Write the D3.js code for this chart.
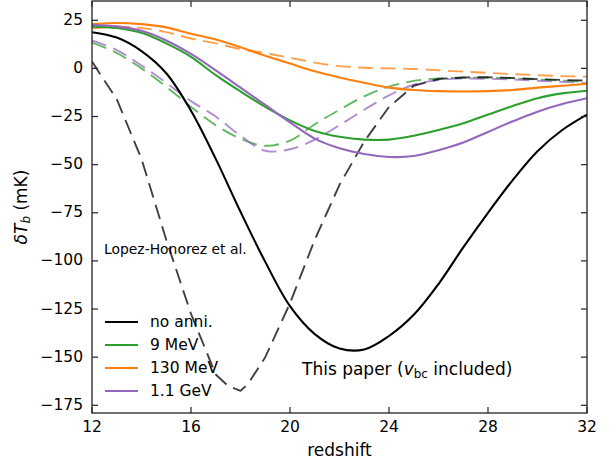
<!DOCTYPE html>
<html><head><meta charset="utf-8">
<script src="https://cdn.jsdelivr.net/npm/d3@7"></script>
<style>body{margin:0;background:#fff}svg{display:block}text{font-family:"DejaVu Sans",sans-serif;fill:#000}</style>
</head><body><svg id="c" width="615" height="466"></svg>
<script>
// redshift grid
const zGrid = [12,13,14,15,16,17,18,19,20,21,22,23,24,25,26,27,28,29,30,31,32];
// This paper (solid)
const noAnniSolid = [18.8,16,9,-2.5,-22,-47,-74.5,-100.5,-123.5,-138,-145.5,-146,-139,-128,-112,-93,-75,-58,-43,-32,-24];
const mev9Solid   = [21.7,21,18.5,13,6,-3.5,-12,-20,-27,-32.5,-35.5,-37,-37,-35,-32,-28.5,-24,-19.5,-15.5,-13,-11.6];
const mev130Solid = [23,23.6,23,21.3,18,15,11,6.5,2.5,-1.5,-4.7,-7.5,-10,-11.2,-11.8,-12,-11.8,-11.2,-10,-9,-8];
const gev11Solid  = [22.5,21.8,19.5,14.5,7.5,-1,-10,-19,-28,-36.5,-41.5,-44.5,-46,-45.5,-42.5,-38.5,-33,-27.5,-22.5,-18.5,-15.5];
// Lopez-Honorez et al. (dashed)
const zNoAnniDash = [12,13,14,15,16,17,17.5,18,18.3,19,20,21,22,23,24,25,26,27,28,29,30,31,32];
const noAnniDash  = [3.5,-16,-47,-89,-127.5,-159,-165,-167.5,-164,-150,-122,-89,-60.5,-38,-20,-9,-5.5,-4.7,-4.6,-5,-5.6,-6,-6.4];
const mev9Dash    = [13.4,8,0,-9.5,-20,-29.5,-36.5,-40.2,-37.5,-29,-21.5,-14.5,-9.5,-6.5,-5.2,-4.8,-4.9,-5.2,-5.8,-6.4,-6.9];
const mev130Dash  = [20.8,21.6,21,18.8,15.5,13,10,8,5.5,3,1.2,0.3,0,-0.3,-1,-1.7,-2.3,-3,-3.5,-4,-4.3];
const gev11Dash   = [14.5,9.5,1.5,-7.5,-17,-25,-35,-42.8,-42,-37,-29.5,-21.5,-14,-8.5,-6,-5.3,-5.4,-5.8,-6.4,-7,-7.7];

const xTicks = [12,16,20,24,28,32];
const yTicks = [25,0,-25,-50,-75,-100,-125,-150,-175];
const legendLabels = ["no anni.","9 MeV","130 MeV","1.1 GeV"];
const colors = ["#000000","#2ca02c","#ff7f0e","#9467bd"];

const L=92,R=587,T=1,B=413;
const x = d3.scaleLinear().domain([12,32]).range([L,R]);
const y = d3.scaleLinear().domain([-179,35]).range([B,T]);
const svg = d3.select("#c");

svg.append("clipPath").attr("id","clip").append("rect").attr("x",L).attr("y",T).attr("width",R-L).attr("height",B-T);
const g = svg.append("g").attr("clip-path","url(#clip)");

function draw(zs, vals, color, dashed, curve){
  const line = d3.line().x((d,i)=>x(zs[i])).y(d=>y(d)).curve(curve||d3.curveCatmullRom.alpha(0.5));
  const p = g.append("path").datum(vals).attr("d",line).attr("fill","none")
    .attr("stroke",color).attr("stroke-width",dashed?1.9:2.1).attr("stroke-linejoin","round");
  if(dashed){ p.attr("stroke-dasharray","15,7.5").attr("stroke-opacity",0.75); }
}
draw(zGrid, mev130Dash, colors[2], true);
draw(zGrid, mev9Dash, colors[1], true);
draw(zGrid, gev11Dash, colors[3], true);
draw(zNoAnniDash, noAnniDash, colors[0], true, d3.curveLinear);
draw(zGrid, noAnniSolid, colors[0], false);
draw(zGrid, mev9Solid, colors[1], false);
draw(zGrid, mev130Solid, colors[2], false);
draw(zGrid, gev11Solid, colors[3], false);

// axes box
const ax = svg.append("g");
ax.append("rect").attr("x",L).attr("y",T).attr("width",R-L).attr("height",B-T)
  .attr("fill","none").attr("stroke","#222").attr("stroke-width",1.3);
const tl = 6;
xTicks.forEach(t=>{
  ax.append("line").attr("x1",x(t)).attr("x2",x(t)).attr("y1",B).attr("y2",B-tl).attr("stroke","#222").attr("stroke-width",1.2);
  ax.append("line").attr("x1",x(t)).attr("x2",x(t)).attr("y1",T).attr("y2",T+tl).attr("stroke","#222").attr("stroke-width",1.2);
  ax.append("text").attr("x",x(t)).attr("y",B+14).attr("text-anchor","middle").attr("dominant-baseline","middle")
    .attr("font-size","15.5px").text(t);
});
yTicks.forEach(t=>{
  ax.append("line").attr("x1",L).attr("x2",L+tl).attr("y1",y(t)).attr("y2",y(t)).attr("stroke","#222").attr("stroke-width",1.2);
  ax.append("line").attr("x1",R).attr("x2",R-tl).attr("y1",y(t)).attr("y2",y(t)).attr("stroke","#222").attr("stroke-width",1.2);
  ax.append("text").attr("x",L-9).attr("y",y(t)).attr("text-anchor","end").attr("dominant-baseline","middle")
    .attr("font-size","15.5px").text(String(t).replace("-","\u2212"));
});

// axis labels
svg.append("text").attr("x",(L+R)/2).attr("y",451).attr("text-anchor","middle").attr("dominant-baseline","middle")
  .attr("font-size","17px").text("redshift");
const yl = svg.append("text").attr("transform",`translate(22,${(T+B)/2}) rotate(-90)`).attr("text-anchor","middle")
  .attr("dominant-baseline","middle").attr("font-size","17px");
yl.append("tspan").attr("font-style","italic").text("δT");
yl.append("tspan").attr("font-style","italic").attr("font-size","12px").attr("dy",4).text("b");
yl.append("tspan").attr("dy",-4).text(" (mK)");

// annotations
svg.append("text").attr("x",104).attr("y",250).attr("dominant-baseline","middle").attr("font-size","13.9px").text("Lopez-Honorez et al.");
const tp = svg.append("text").attr("x",302).attr("y",370).attr("dominant-baseline","middle").attr("font-size","17px");
tp.append("tspan").text("This paper (");
tp.append("tspan").attr("font-style","italic").text("v");
tp.append("tspan").attr("font-size","12px").attr("dy",4).text("bc");
tp.append("tspan").attr("dy",-4).text(" included)");

// legend
legendLabels.forEach((lab,i)=>{
  const yy = 322 + i*23;
  svg.append("line").attr("x1",105).attr("x2",138).attr("y1",yy).attr("y2",yy).attr("stroke",colors[i]).attr("stroke-width",2.1);
  svg.append("text").attr("x",150).attr("y",yy).attr("dominant-baseline","middle").attr("font-size","15.5px").text(lab);
});
</script></body></html>
